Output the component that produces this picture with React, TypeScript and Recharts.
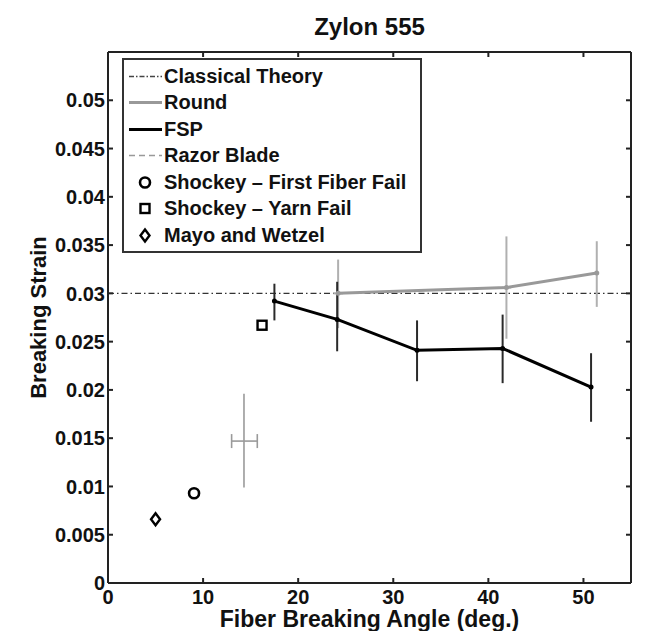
import {
  ScatterChart,
  Scatter,
  XAxis,
  YAxis,
  ErrorBar,
  ReferenceLine,
  CartesianGrid,
  Legend,
} from "recharts";

const FONT = '"Liberation Sans", Arial, Helvetica, sans-serif';

const W = 645;
const H = 631;
const MARGIN = { top: 22, right: 14, bottom: 2, left: 8 };
const TOP_AXIS_H = 30;
const PLOT_TOP = MARGIN.top + TOP_AXIS_H;
const PLOT_RIGHT = W - MARGIN.right;

const xMax = 55;
const yMax = 0.055;
const xTicks = [0, 10, 20, 30, 40, 50];
const yTicks = [0, 0.005, 0.01, 0.015, 0.02, 0.025, 0.03, 0.035, 0.04, 0.045, 0.05];
const classicalStrain = 0.03;

// FSP (black line)
const fspAngle = [17.5, 24.1, 32.5, 41.5, 50.8];
const fspStrain = [0.0292, 0.0273, 0.0241, 0.0243, 0.0203];
const fspLow = [0.0272, 0.024, 0.0209, 0.0207, 0.0167];
const fspHigh = [0.031, 0.0312, 0.0272, 0.0278, 0.0238];

// Round (gray line)
const roundAngle = [24.2, 41.9, 51.4];
const roundStrain = [0.0300, 0.0306, 0.0321];
const roundLow = [0.0264, 0.0253, 0.0286];
const roundHigh = [0.0335, 0.0359, 0.0354];
const roundAngleErr = [0.5, 0.5, 0];

// Razor Blade (single point with x/y error)
const razorAngle = [14.3];
const razorStrain = [0.0147];
const razorStrainLow = [0.0099];
const razorStrainHigh = [0.0196];
const razorAngleLow = [13.0];
const razorAngleHigh = [15.7];

const shockeyFirstAngle = [9.05];
const shockeyFirstStrain = [0.0093];
const shockeyYarnAngle = [16.2];
const shockeyYarnStrain = [0.0267];
const mayoAngle = [5.0];
const mayoStrain = [0.0066];

const legendNames = [
  "Classical Theory",
  "Round",
  "FSP",
  "Razor Blade",
  "Shockey \u2013 First Fiber Fail",
  "Shockey \u2013 Yarn Fail",
  "Mayo and Wetzel",
];

const fspData = fspAngle.map((x, i) => ({
  x,
  y: fspStrain[i],
  ey: [fspStrain[i] - fspLow[i], fspHigh[i] - fspStrain[i]],
}));
const roundData = roundAngle.map((x, i) => ({
  x,
  y: roundStrain[i],
  ey: [roundStrain[i] - roundLow[i], roundHigh[i] - roundStrain[i]],
  ex: roundAngleErr[i],
}));
const razorData = razorAngle.map((x, i) => ({
  x,
  y: razorStrain[i],
  ey: [razorStrain[i] - razorStrainLow[i], razorStrainHigh[i] - razorStrain[i]],
  ex: [x - razorAngleLow[i], razorAngleHigh[i] - x],
}));
const pts = (xs: number[], ys: number[]) => xs.map((x, i) => ({ x, y: ys[i] }));
const shockeyFirstData = pts(shockeyFirstAngle, shockeyFirstStrain);
const shockeyYarnData = pts(shockeyYarnAngle, shockeyYarnStrain);
const mayoData = pts(mayoAngle, mayoStrain);

const smallDot = (color: string) => (p: any) => (
  <circle cx={p.cx} cy={p.cy} r={2.5} fill={color} />
);
const circleMark = (p: any) => (
  <circle cx={p.cx} cy={p.cy} r={5} fill="#fff" stroke="#000" strokeWidth={2.6} />
);
const squareMark = (p: any) => (
  <rect x={p.cx - 4.5} y={p.cy - 4.5} width={9} height={9} fill="#fff" stroke="#000" strokeWidth={2.4} />
);
const diamondMark = (p: any) => (
  <polygon
    points={`${p.cx},${p.cy - 6} ${p.cx + 4.5},${p.cy} ${p.cx},${p.cy + 6} ${p.cx - 4.5},${p.cy}`}
    fill="#fff"
    stroke="#000"
    strokeWidth={2.4}
  />
);

const tickText = { fill: "#111", fontSize: 20, fontWeight: "bold", fontFamily: FONT };

// bottom tick label + the matching inner tick on the top edge
const BottomTick = (p: any) => (
  <g>
    <line x1={p.x} x2={p.x} y1={PLOT_TOP} y2={PLOT_TOP + 5} stroke="#222" strokeWidth={2} />
    <text x={p.x} y={p.y} dy="0.71em" textAnchor="middle" {...tickText}>
      {p.payload.value}
    </text>
  </g>
);
// left tick label + the matching inner tick on the right edge
const LeftTick = (p: any) => (
  <g>
    <line x1={PLOT_RIGHT - 5} x2={PLOT_RIGHT} y1={p.y} y2={p.y} stroke="#222" strokeWidth={2} />
    <text x={p.x} y={p.y} dy="0.36em" textAnchor="end" {...tickText}>
      {p.payload.value}
    </text>
  </g>
);

const Swatch = ({ i }: { i: number }) => {
  const w = 40;
  const h = 27;
  const c = h / 2;
  if (i === 0)
    return (
      <svg width={w} height={h}>
        <line x1={5} x2={38} y1={c} y2={c} stroke="#444" strokeWidth={1.3} strokeDasharray="5 2 1.5 2" />
      </svg>
    );
  if (i === 1 || i === 2 || i === 3)
    return (
      <svg width={w} height={h}>
        <line
          x1={5}
          x2={38}
          y1={c}
          y2={c}
          stroke={i === 2 ? "#000" : "#999"}
          strokeWidth={i === 3 ? 1.6 : 2.8}
          strokeDasharray={i === 3 ? "6 4" : undefined}
        />
      </svg>
    );
  const p = { cx: 21, cy: c };
  return (
    <svg width={w} height={h}>
      {i === 4 ? circleMark(p) : i === 5 ? squareMark(p) : diamondMark(p)}
    </svg>
  );
};

const renderLegend = () => (
  <div
    style={{
      width: 296,
      height: 188,
      border: "2px solid #333",
      background: "#fff",
      paddingTop: 3,
      boxSizing: "content-box",
    }}
  >
    {legendNames.map((name, i) => (
      <div key={name} style={{ display: "flex", alignItems: "center", height: 26.5 }}>
        <Swatch i={i} />
        <span style={{ fontFamily: FONT, fontWeight: "bold", fontSize: 20, color: "#111", whiteSpace: "nowrap" }}>
          {name}
        </span>
      </div>
    ))}
  </div>
);

export default function App() {
  return (
    <div style={{ position: "absolute", left: 0, top: 0, width: W, height: H, background: "#fff" }}>
      <ScatterChart width={W} height={H} margin={MARGIN}>
        {/* top and right edges of the plot frame */}
        <CartesianGrid
          xAxisId="b"
          yAxisId="l"
          stroke="#222"
          strokeWidth={2}
          strokeDasharray=""
          horizontalCoordinatesGenerator={({ offset }: any) => [offset.top]}
          verticalCoordinatesGenerator={({ offset }: any) => [offset.left + offset.width]}
        />
        <XAxis
          xAxisId="b"
          type="number"
          dataKey="x"
          domain={[0, xMax]}
          ticks={xTicks}
          height={46}
          tickSize={-5}
          tickMargin={12}
          stroke="#222"
          strokeWidth={2}
          tick={BottomTick}
          label={{
            value: "Fiber Breaking Angle (deg.)",
            position: "insideBottom",
            offset: 2,
            fill: "#111",
            fontSize: 23,
            fontWeight: "bold",
            fontFamily: FONT,
          }}
        />
        <XAxis
          xAxisId="t"
          orientation="top"
          type="number"
          dataKey="x"
          domain={[0, xMax]}
          ticks={xTicks}
          height={TOP_AXIS_H}
          tick={false}
          axisLine={false}
          tickLine={false}
          label={{
            value: "Zylon 555",
            position: "insideTop",
            offset: 0,
            dy: -4,
            fill: "#111",
            fontSize: 24,
            fontWeight: "bold",
            fontFamily: FONT,
          }}
        />
        <YAxis
          yAxisId="l"
          type="number"
          dataKey="y"
          domain={[0, yMax]}
          ticks={yTicks}
          width={100}
          tickSize={-5}
          tickMargin={8}
          stroke="#222"
          strokeWidth={2}
          tick={LeftTick}
          label={{
            value: "Breaking Strain",
            angle: -90,
            position: "center",
            dx: -20,
            fill: "#111",
            fontSize: 22,
            fontWeight: "bold",
            fontFamily: FONT,
          }}
        />
        <ReferenceLine
          xAxisId="b"
          yAxisId="l"
          y={classicalStrain}
          stroke="#333"
          strokeWidth={1.3}
          strokeDasharray="6 3 1.5 3"
        />
        <Scatter
          name="Razor Blade"
          xAxisId="b"
          yAxisId="l"
          data={razorData}
          shape={() => <g />}
          isAnimationActive={false}
        >
          <ErrorBar dataKey="ey" direction="y" width={0} stroke="#9a9a9a" strokeWidth={1.6} />
          <ErrorBar dataKey="ex" direction="x" width={7} stroke="#9a9a9a" strokeWidth={1.6} />
        </Scatter>
        <Scatter
          name="Round"
          xAxisId="b"
          yAxisId="l"
          data={roundData}
          line={{ stroke: "#999", strokeWidth: 3 }}
          lineType="joint"
          shape={smallDot("#999")}
          isAnimationActive={false}
        >
          <ErrorBar dataKey="ey" direction="y" width={0} stroke="#b0b0b0" strokeWidth={2} />
          <ErrorBar dataKey="ex" direction="x" width={0} stroke="#b0b0b0" strokeWidth={2} />
        </Scatter>
        <Scatter
          name="FSP"
          xAxisId="b"
          yAxisId="l"
          data={fspData}
          line={{ stroke: "#000", strokeWidth: 3 }}
          lineType="joint"
          shape={smallDot("#000")}
          isAnimationActive={false}
        >
          <ErrorBar dataKey="ey" direction="y" width={0} stroke="#2a2a2a" strokeWidth={2} />
        </Scatter>
        <Scatter
          name="Shockey - First Fiber Fail"
          xAxisId="b"
          yAxisId="l"
          data={shockeyFirstData}
          shape={circleMark}
          isAnimationActive={false}
        />
        <Scatter
          name="Shockey - Yarn Fail"
          xAxisId="b"
          yAxisId="l"
          data={shockeyYarnData}
          shape={squareMark}
          isAnimationActive={false}
        />
        <Scatter
          name="Mayo and Wetzel"
          xAxisId="b"
          yAxisId="l"
          data={mayoData}
          shape={diamondMark}
          isAnimationActive={false}
        />
        <Legend
          layout="vertical"
          align="center"
          verticalAlign="middle"
          content={renderLegend}
          wrapperStyle={{ position: "absolute", left: 122, top: 58, width: 300, height: 194 }}
        />
      </ScatterChart>
    </div>
  );
}
